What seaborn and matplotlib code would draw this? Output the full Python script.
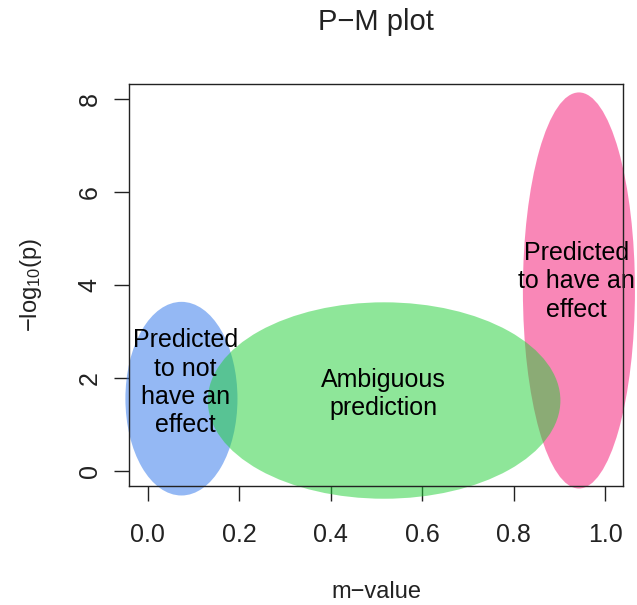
import matplotlib
matplotlib.use("Agg")
import matplotlib.pyplot as plt
from matplotlib.patches import Ellipse
import seaborn as sns

# Data
region_labels = ["Predicted\nto not\nhave an\neffect", "Ambiguous\nprediction", "Predicted\nto have an\neffect"]
center_m = [0.074, 0.517, 0.943]
center_p = [1.55, 1.51, 3.88]
width_m = [0.245, 0.771, 0.245]
height_p = [4.17, 4.23, 8.53]
label_m = [0.082, 0.515, 0.937]
label_p = [1.89, 1.65, 4.08]
region_colors = ["#2a73ea", "#1ecf35", "#f51171"]
draw_order = [0, 2, 1]
x_ticks = [0.0, 0.2, 0.4, 0.6, 0.8, 1.0]
x_tick_labels = ["0.0", "0.2", "0.4", "0.6", "0.8", "1.0"]
y_ticks = [0, 2, 4, 6, 8]
y_tick_labels = ["0", "2", "4", "6", "8"]

sns.set_theme(style="white")
plt.rcParams['font.family'] = ['Liberation Sans', 'DejaVu Sans']
plt.rcParams['mathtext.fontset'] = 'custom'
plt.rcParams['mathtext.rm'] = 'Liberation Sans'
plt.rcParams['mathtext.it'] = 'Liberation Sans'

fig = plt.figure(figsize=(6.37, 6.05), dpi=100)
fig.patch.set_facecolor("white")
ax = fig.add_axes([129.3 / 637, 1 - 485.5 / 605, (623.3 - 129.3) / 637, (485.5 - 84.3) / 605])
ax.set_facecolor("white")

for i in draw_order:
    e = Ellipse((center_m[i], center_p[i]), width_m[i], height_p[i],
                facecolor=region_colors[i], edgecolor="none", alpha=0.5,
                clip_on=False, zorder=1)
    ax.add_patch(e)

for i in range(len(region_labels)):
    ax.text(label_m[i], label_p[i], region_labels[i], ha="center", va="center",
            fontsize=18, color="black", linespacing=1.23, zorder=3)

ax.set_xlim(-0.04, 1.04)
ax.set_ylim(-0.32, 8.32)
ax.set_xticks(x_ticks)
ax.set_xticklabels(x_tick_labels)
ax.set_yticks(y_ticks)
ax.set_yticklabels(y_tick_labels, rotation=90, va="center")
ax.tick_params(axis="both", direction="out", length=10.8, width=1.0, color="#222222",
               labelsize=18, labelcolor="#222222", bottom=True, left=True)
ax.tick_params(axis="x", pad=16)
ax.tick_params(axis="y", pad=9)
for s in ax.spines.values():
    s.set_visible(True)
    s.set_color("#222222")
    s.set_linewidth(1.0)
    s.set_zorder(4)

fig.text(376.3 / 637, 1 - 22 / 605, "P\u2212M plot", ha="center", va="center", fontsize=21, color="#222222")
fig.text(376.3 / 637, 1 - 592 / 605, "m\u2212value", ha="center", va="center", fontsize=17, color="#222222")
fig.text(31 / 637, 1 - 285 / 605, r"$-\mathrm{log}_{10}(\mathrm{p})$", ha="center", va="center",
         rotation=90, fontsize=17, color="#222222")

fig.savefig("out.png", dpi=100, facecolor="white")
